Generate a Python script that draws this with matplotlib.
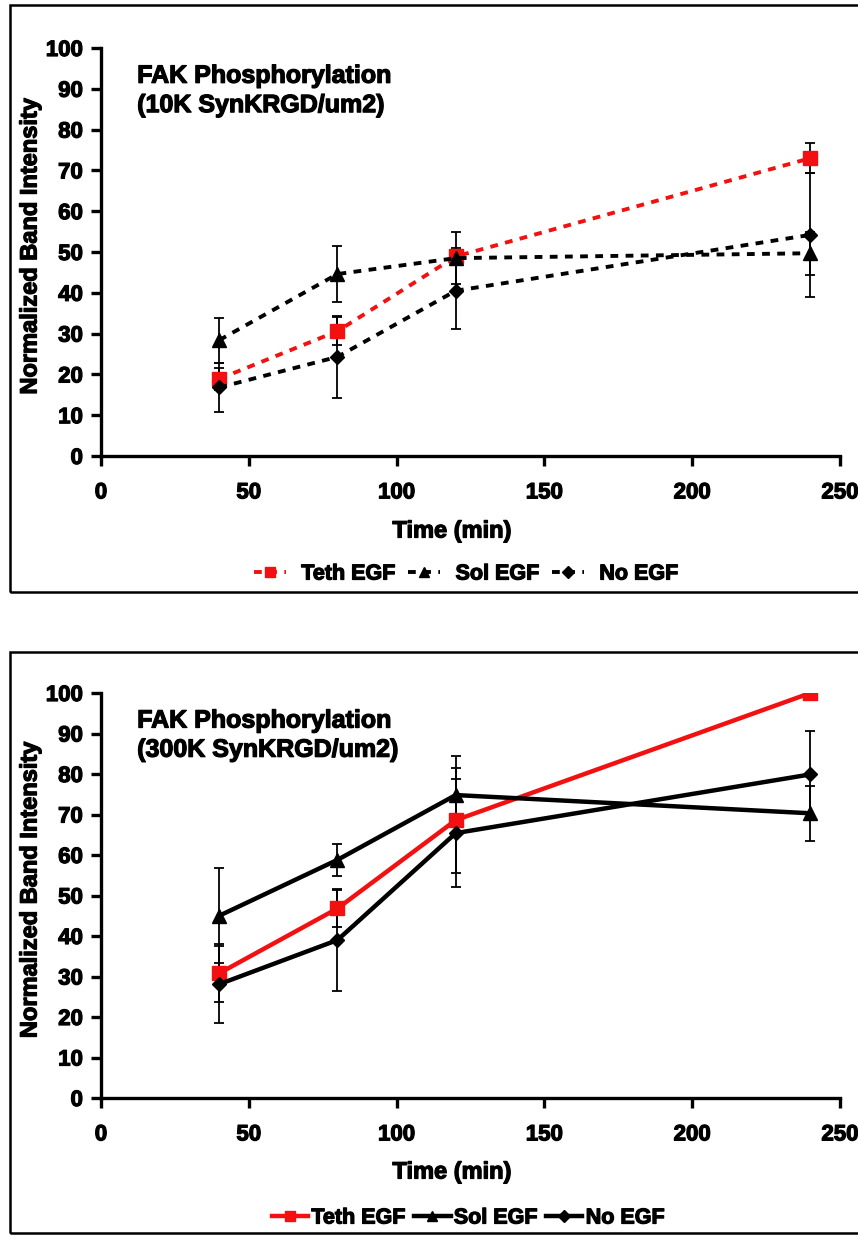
import matplotlib
matplotlib.use("Agg")
import matplotlib.pyplot as plt
import matplotlib.patheffects as pe
from matplotlib.patches import Rectangle

plt.rcParams['font.family'] = ['Liberation Sans', 'DejaVu Sans']
plt.rcParams['font.weight'] = 'bold'

# Time points (min)
time = [40, 80, 120, 240]

# 10K SynKRGD/um2
teth_10k = [18.9, 30.6, 48.9, 73.0]
teth_10k_err = [2.7, 3.4, 2.0, 3.6]
sol_10k = [28.4, 44.6, 48.5, 49.7]
sol_10k_err = [5.5, 6.9, 6.4, 5.3]
none_10k = [16.8, 24.3, 40.5, 54.2]
none_10k_err = [6.0, 10.0, 9.4, 15.2]

# 300K SynKRGD/um2
teth_300k = [30.8, 46.8, 68.6, 100.0]
teth_300k_err = [7.2, 4.5, 13.0, 0.0]
sol_300k = [45.0, 58.8, 74.8, 70.3]
sol_300k_err = [11.7, 4.0, 9.7, 6.8]
none_300k = [28.1, 39.0, 65.4, 79.9]
none_300k_err = [9.5, 12.6, 13.4, 10.7]

series_names = ["Teth EGF", "Sol EGF", "No EGF"]
x_ticks = [0, 50, 100, 150, 200, 250]
y_ticks = [0, 10, 20, 30, 40, 50, 60, 70, 80, 90, 100]

RED = "#f21010"
FS_TICK = 16
FS_TITLE = 18
FS_LABEL = 17
FS_LEG = 15.5
HEAVY = [pe.withStroke(linewidth=0.9, foreground="black")]

W, H = 858, 1236
fig = plt.figure(figsize=(W / 100, H / 100), dpi=100)
fig.patch.set_facecolor("white")

# Outer boxes around each panel
for (y0, y1) in [(5, 592), (652, 1233)]:
    fig.add_artist(Rectangle((10 / W, 1 - y1 / H), 1.2, (y1 - y0) / H,
                             transform=fig.transFigure, fill=False,
                             edgecolor="black", linewidth=1.8))


def panel(top_px, bottom_px, data, title2, dashed, legend_y, xlabel_y, compact):
    ax = fig.add_axes([101 / W, 1 - bottom_px / H, 739 / W, (bottom_px - top_px) / H])
    ls = (0, (2.0, 1.9)) if dashed else "-"
    lw = 2.8 if dashed else 3.2
    styles = [
        dict(color=RED, marker="s", ms=10),
        dict(color="black", marker="^", ms=10),
        dict(color="black", marker="D", ms=7.5),
    ]
    handles = []
    for (vals, errs), st, name in zip(data, styles, series_names):
        ax.errorbar(time, vals, yerr=errs, fmt="none", ecolor="black",
                    elinewidth=1.3, capsize=3.5, capthick=1.3, zorder=2)
        ln, = ax.plot(time, vals, linestyle=ls, linewidth=lw, color=st["color"],
                      marker=st["marker"], markersize=st["ms"],
                      markerfacecolor=st["color"], markeredgecolor=st["color"],
                      zorder=3, label=name)
        handles.append(ln)

    ax.set_xlim(0, 250)
    ax.set_ylim(0, 100)
    ax.set_xticks(x_ticks)
    ax.set_yticks(y_ticks)
    for s in ["top", "right"]:
        ax.spines[s].set_visible(False)
    for s in ["left", "bottom"]:
        ax.spines[s].set_linewidth(2.4)
    ax.tick_params(direction="out", length=7, width=2.4, labelsize=FS_TICK)
    ax.tick_params(axis="x", pad=12)
    ax.tick_params(axis="y", pad=6)
    for lab in ax.get_xticklabels() + ax.get_yticklabels():
        lab.set_fontweight("bold")
        lab.set_path_effects(HEAVY)

    ax.set_ylabel("Normalized Band Intensity", fontsize=FS_LABEL, fontweight="bold",
                  path_effects=HEAVY)
    ax.yaxis.label.set_va("center")
    ax.yaxis.set_label_coords(-(101 - 30) / 739, 0.515)
    ax.set_xlabel("Time (min)", fontsize=FS_LABEL, fontweight="bold", path_effects=HEAVY)
    ax.xaxis.label.set_va("center")
    ax.xaxis.set_label_coords(0.475, -(xlabel_y - bottom_px) / (bottom_px - top_px))

    ax.text(0.049, 0.932, "FAK Phosphorylation", transform=ax.transAxes,
            fontsize=FS_TITLE, fontweight="bold", va="center", ha="left",
            path_effects=HEAVY)
    ax.text(0.049, 0.860, title2, transform=ax.transAxes,
            fontsize=FS_TITLE, fontweight="bold", va="center", ha="left",
            path_effects=HEAVY)

    if compact:
        leg = fig.legend(handles=handles, loc="center", ncol=3,
                         bbox_to_anchor=(468 / W, 1 - legend_y / H), frameon=False,
                         prop=dict(size=FS_LEG, weight="bold"), handlelength=1.7,
                         handletextpad=0.15, columnspacing=0.4, markerscale=0.75)
    else:
        leg = fig.legend(handles=handles, loc="center", ncol=3,
                         bbox_to_anchor=(466 / W, 1 - legend_y / H), frameon=False,
                         prop=dict(size=FS_LEG, weight="bold"), handlelength=1.5,
                         handletextpad=0.7, columnspacing=0.6, markerscale=0.75)
    for t in leg.get_texts():
        t.set_path_effects(HEAVY)
    return ax


panel(48, 456,
      [(teth_10k, teth_10k_err), (sol_10k, sol_10k_err), (none_10k, none_10k_err)],
      "(10K SynKRGD/um2)", True, 574, 531, False)
panel(693, 1098,
      [(teth_300k, teth_300k_err), (sol_300k, sol_300k_err), (none_300k, none_300k_err)],
      "(300K SynKRGD/um2)", False, 1218, 1172, True)

fig.savefig("out.png", dpi=100, facecolor="white")
